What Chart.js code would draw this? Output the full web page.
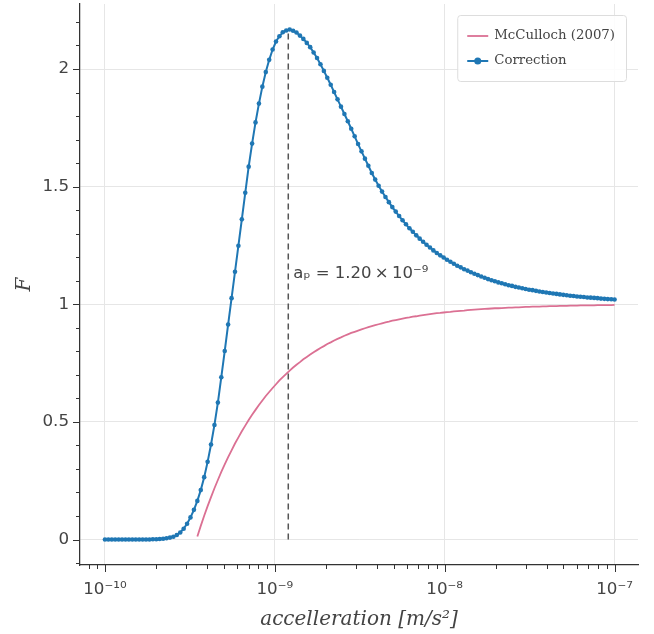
<!DOCTYPE html>
<html lang="en">
<head>
<meta charset="UTF-8" />
<title>F vs acceleration</title>
<style>
  html, body { margin: 0; padding: 0; background: #fff; }
  #wrap { width: 654px; height: 634px; }
</style>
</head>
<body>
<div id="wrap"><canvas id="chart" width="654" height="634"></canvas></div>

<script src="https://cdn.jsdelivr.net/npm/chart.js"></script>
<script>
// acceleration grid [m/s^2], 150 log-spaced points
const accel = [
  1.000e-10,1.047e-10,1.097e-10,1.149e-10,1.204e-10,1.261e-10,1.321e-10,1.383e-10,1.449e-10,1.518e-10,
  1.590e-10,1.666e-10,1.745e-10,1.827e-10,1.914e-10,2.005e-10,2.100e-10,2.200e-10,2.304e-10,2.414e-10,
  2.528e-10,2.648e-10,2.774e-10,2.906e-10,3.044e-10,3.188e-10,3.340e-10,3.498e-10,3.664e-10,3.838e-10,
  4.021e-10,4.211e-10,4.411e-10,4.621e-10,4.840e-10,5.070e-10,5.311e-10,5.563e-10,5.827e-10,6.104e-10,
  6.393e-10,6.697e-10,7.015e-10,7.348e-10,7.697e-10,8.062e-10,8.445e-10,8.846e-10,9.266e-10,9.706e-10,
  1.016e-9,1.064e-9,1.114e-9,1.167e-9,1.223e-9,1.281e-9,1.341e-9,1.405e-9,1.472e-9,1.542e-9,
  1.615e-9,1.692e-9,1.772e-9,1.856e-9,1.944e-9,2.036e-9,2.133e-9,2.234e-9,2.340e-9,2.451e-9,
  2.568e-9,2.690e-9,2.817e-9,2.951e-9,3.091e-9,3.238e-9,3.392e-9,3.553e-9,3.722e-9,3.898e-9,
  4.083e-9,4.277e-9,4.480e-9,4.693e-9,4.916e-9,5.149e-9,5.393e-9,5.650e-9,5.918e-9,6.199e-9,
  6.493e-9,6.801e-9,7.124e-9,7.462e-9,7.817e-9,8.188e-9,8.577e-9,8.984e-9,9.410e-9,9.857e-9,
  1.031e-8,1.080e-8,1.132e-8,1.185e-8,1.242e-8,1.301e-8,1.362e-8,1.427e-8,1.495e-8,1.566e-8,
  1.640e-8,1.718e-8,1.799e-8,1.885e-8,1.974e-8,2.068e-8,2.166e-8,2.269e-8,2.377e-8,2.490e-8,
  2.608e-8,2.732e-8,2.861e-8,2.997e-8,3.139e-8,3.289e-8,3.445e-8,3.608e-8,3.779e-8,3.959e-8,
  4.147e-8,4.344e-8,4.550e-8,4.766e-8,4.992e-8,5.229e-8,5.477e-8,5.738e-8,6.010e-8,6.295e-8,
  6.594e-8,6.907e-8,7.235e-8,7.579e-8,7.938e-8,8.315e-8,8.710e-8,9.123e-8,9.557e-8,1.000e-7
];

// "Correction" curve
const correction = [
  0,0,0,0,0,0,0,0,0,0,
  0,0,0,0,0.001,0.001,0.002,0.003,0.005,0.008,
  0.012,0.019,0.030,0.046,0.067,0.094,0.126,0.164,0.210,0.265,
  0.330,0.404,0.487,0.582,0.690,0.801,0.914,1.026,1.138,1.249,
  1.361,1.474,1.585,1.683,1.773,1.853,1.925,1.987,2.039,2.083,
  2.117,2.139,2.156,2.164,2.168,2.163,2.155,2.142,2.128,2.111,
  2.093,2.070,2.047,2.020,1.992,1.963,1.933,1.902,1.871,1.840,
  1.809,1.778,1.746,1.714,1.681,1.650,1.619,1.589,1.558,1.530,
  1.504,1.479,1.456,1.434,1.413,1.394,1.375,1.357,1.340,1.323,
  1.308,1.293,1.279,1.266,1.253,1.241,1.229,1.218,1.208,1.199,
  1.189,1.181,1.172,1.164,1.157,1.149,1.143,1.136,1.130,1.124,
  1.118,1.113,1.107,1.102,1.098,1.093,1.089,1.085,1.081,1.078,
  1.074,1.071,1.068,1.065,1.062,1.060,1.057,1.054,1.052,1.050,
  1.048,1.046,1.044,1.042,1.040,1.038,1.036,1.035,1.033,1.032,
  1.031,1.029,1.028,1.027,1.026,1.024,1.023,1.022,1.021,1.020
];

// McCulloch (2007), only drawn where it is >= 0
const mcculloch = [
  null,null,null,null,null,null,null,null,null,null,
  null,null,null,null,null,null,null,null,null,null,
  null,null,null,null,null,null,null,0.013,0.058,0.101,
  0.142,0.180,0.218,0.253,0.287,0.319,0.350,0.379,0.408,0.434,
  0.460,0.484,0.508,0.530,0.551,0.572,0.591,0.610,0.627,0.644,
  0.660,0.676,0.690,0.704,0.718,0.731,0.743,0.754,0.766,0.776,
  0.786,0.796,0.805,0.814,0.822,0.831,0.838,0.846,0.853,0.859,
  0.866,0.872,0.878,0.883,0.888,0.893,0.898,0.903,0.907,0.911,
  0.915,0.919,0.923,0.926,0.930,0.933,0.936,0.939,0.942,0.944,
  0.947,0.949,0.952,0.954,0.956,0.958,0.960,0.962,0.963,0.965,
  0.967,0.968,0.970,0.971,0.972,0.973,0.975,0.976,0.977,0.978,
  0.979,0.980,0.981,0.982,0.983,0.983,0.984,0.985,0.986,0.986,
  0.987,0.987,0.988,0.989,0.989,0.990,0.990,0.990,0.991,0.991,
  0.992,0.992,0.992,0.993,0.993,0.993,0.994,0.994,0.994,0.995,
  0.995,0.995,0.995,0.995,0.996,0.996,0.996,0.996,0.996,0.997
];

// peak acceleration marker
const apValue = 1.20e-9;
const apLineY = [0, 2.168];
const apLabel = 'aₚ = 1.20\u2009×\u200910⁻⁹';
const apLabelY = 1.131;

const xTickValues = [1e-10, 1e-9, 1e-8, 1e-7];
const xTickLabels = ['10⁻¹⁰', '10⁻⁹', '10⁻⁸', '10⁻⁷'];
const yTickValues = [0, 0.5, 1, 1.5, 2];
const yTickLabels = ['0', '0.5', '1', '1.5', '2'];

const BLUE = '#1f77b4';
const PINK = '#db7093';
const INK = '#333333';
const TEXT = '#444444';
const GRID = '#e6e6e6';

function points(ys) {
  return accel.map((x, i) => ({ x: x, y: ys[i] }));
}

// minor/major tick marks, annotation text and the legend box
const decorations = {
  id: 'decorations',
  afterDraw(chart) {
    const { ctx, chartArea: a, scales: { x, y } } = chart;
    ctx.save();

    ctx.strokeStyle = INK;
    ctx.lineWidth = 1;
    ctx.beginPath();
    for (let d = -11; d <= -7; d++) {
      for (let k = 1; k <= 9; k++) {
        const v = k * Math.pow(10, d);
        if (v < x.min || v > x.max) continue;
        const px = Math.round(x.getPixelForValue(v)) + 0.5;
        const len = k === 1 ? 7 : 4;
        ctx.moveTo(px, a.bottom);
        ctx.lineTo(px, a.bottom + len);
      }
    }
    for (let i = -2; i <= 23; i++) {
      const v = i / 10;
      if (v < y.min || v > y.max) continue;
      const py = Math.round(y.getPixelForValue(v)) + 0.5;
      const len = i % 5 === 0 ? 7 : 4;
      ctx.moveTo(a.left, py);
      ctx.lineTo(a.left - len, py);
    }
    ctx.stroke();

    // annotation next to the dashed line
    ctx.fillStyle = TEXT;
    ctx.font = '16.5px "DejaVu Sans"';
    ctx.textAlign = 'left';
    ctx.textBaseline = 'middle';
    ctx.fillText(apLabel, x.getPixelForValue(apValue) + 5, y.getPixelForValue(apLabelY));

    // legend
    const items = chart.data.datasets.filter(ds => ds.inLegend);
    ctx.font = '13.3px "DejaVu Serif"';
    const textW = Math.max(...items.map(ds => ctx.measureText(ds.label).width));
    const boxW = 37 + textW + 11;
    const boxH = 66;
    const bx = a.right - 12 - boxW;
    const by = a.top + 11;
    ctx.beginPath();
    ctx.roundRect(bx + 0.5, by + 0.5, boxW, boxH, 3);
    ctx.fillStyle = 'rgba(255,255,255,0.85)';
    ctx.fill();
    ctx.strokeStyle = '#dddddd';
    ctx.lineWidth = 1;
    ctx.stroke();

    items.forEach((ds, i) => {
      const ly = by + 21 + i * 25;
      ctx.strokeStyle = ds.borderColor;
      ctx.lineWidth = ds.borderWidth;
      ctx.beginPath();
      ctx.moveTo(bx + 10, ly);
      ctx.lineTo(bx + 31, ly);
      ctx.stroke();
      if (ds.pointRadius > 0) {
        ctx.fillStyle = ds.borderColor;
        ctx.beginPath();
        ctx.arc(bx + 20.5, ly, 3.5, 0, Math.PI * 2);
        ctx.fill();
      }
      ctx.fillStyle = TEXT;
      ctx.textBaseline = 'middle';
      ctx.fillText(ds.label, bx + 37, ly);
    });

    ctx.restore();
  }
};

new Chart(document.getElementById('chart'), {
  type: 'line',
  data: {
    datasets: [
      {
        label: 'McCulloch (2007)',
        data: points(mcculloch),
        borderColor: PINK,
        borderWidth: 1.8,
        pointRadius: 0,
        order: 3,
        inLegend: true
      },
      {
        label: 'Correction',
        data: points(correction),
        borderColor: BLUE,
        backgroundColor: BLUE,
        borderWidth: 2,
        pointRadius: 2.3,
        pointBorderWidth: 0,
        pointBackgroundColor: BLUE,
        order: 2,
        inLegend: true
      },
      {
        label: 'a_p',
        data: apLineY.map(v => ({ x: apValue, y: v })),
        borderColor: '#555555',
        borderWidth: 1.5,
        borderDash: [6, 4],
        pointRadius: 0,
        order: 1,
        inLegend: false
      }
    ]
  },
  options: {
    responsive: false,
    animation: false,
    events: [],
    layout: { padding: { top: 1.5, right: 16, left: 0, bottom: 0 } },
    plugins: {
      legend: { display: false },
      tooltip: { enabled: false }
    },
    scales: {
      x: {
        type: 'logarithmic',
        min: 7.129e-11,
        max: 1.374e-7,
        afterFit(s) { s.height = 69; s.paddingLeft = 0; s.paddingRight = 0; },
        afterBuildTicks(s) { s.ticks = xTickValues.map(v => ({ value: v })); },
        grid: { color: GRID, lineWidth: 1, drawTicks: false },
        border: { display: true, color: INK, width: 1.25 },
        ticks: {
          autoSkip: false,
          maxRotation: 0,
          padding: 14.5,
          color: TEXT,
          font: { family: 'DejaVu Sans', size: 16.7 },
          callback: (v, i) => xTickLabels[i]
        },
        title: {
          display: true,
          text: 'accelleration [m/s²]',
          color: TEXT,
          font: { family: 'DejaVu Serif', style: 'italic', size: 20 },
          padding: { top: 0, bottom: 2 }
        }
      },
      y: {
        type: 'linear',
        min: -0.1084,
        max: 2.2764,
        afterFit(s) { s.width = 80; s.paddingTop = 0; s.paddingBottom = 0; },
        afterBuildTicks(s) { s.ticks = yTickValues.map(v => ({ value: v })); },
        grid: { color: GRID, lineWidth: 1, drawTicks: false },
        border: { display: true, color: INK, width: 1.25 },
        ticks: {
          padding: 11,
          color: TEXT,
          font: { family: 'DejaVu Sans', size: 16.7 },
          callback: (v, i) => yTickLabels[i]
        },
        title: {
          display: true,
          text: 'F',
          color: TEXT,
          font: { family: 'DejaVu Serif', style: 'italic', size: 20 },
          padding: { top: 13, bottom: 0 }
        }
      }
    }
  },
  plugins: [decorations]
});
</script>
</body>
</html>
